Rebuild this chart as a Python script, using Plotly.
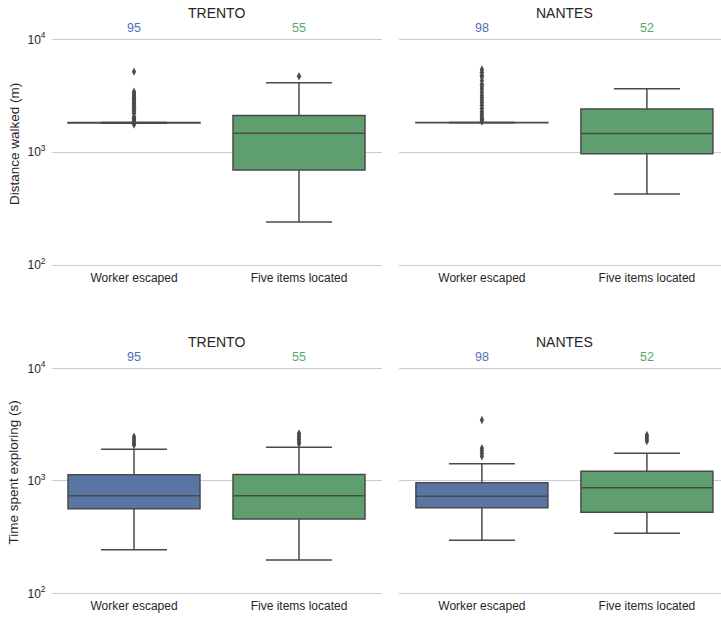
import plotly.graph_objects as go

categories = ["Worker escaped", "Five items located"]
cities = ["TRENTO", "NANTES"]
counts = {"TRENTO": [95, 55], "NANTES": [98, 52]}
metrics = ["Distance walked (m)", "Time spent exploring (s)"]

# box stats per (metric, city): list per category of [lowerfence, q1, median, q3, upperfence]
stats = {
    ("Distance walked (m)", "TRENTO"): [[1800, 1815, 1825, 1835, 1845], [240, 693, 1472, 2109, 4130]],
    ("Distance walked (m)", "NANTES"): [[1810, 1818, 1825, 1835, 1845], [425, 966, 1462, 2415, 3655]],
    ("Time spent exploring (s)", "TRENTO"): [[244, 565, 738, 1132, 1905], [198, 457, 738, 1140, 1985]],
    ("Time spent exploring (s)", "NANTES"): [[296, 577, 728, 962, 1419], [341, 525, 869, 1213, 1755]],
}
outliers = {
    ("Distance walked (m)", "TRENTO"): [
        [5170, 3430, 3300, 3200, 3100, 3000, 2900, 2800, 2700, 2600, 2500, 2400, 2300, 2210,
         2060, 2000, 1950, 1900, 1870, 1760],
        [4700]],
    ("Distance walked (m)", "NANTES"): [
        [5400, 5100, 4800, 4600, 4300, 4000, 3800, 3600, 3400, 3200, 3050, 2900, 2750, 2600,
         2450, 2300, 2200, 2100, 2000, 1950, 1900, 1870],
        []],
    ("Time spent exploring (s)", "TRENTO"): [[2460, 2350, 2250, 2150, 2080], [2630, 2520, 2420, 2330, 2220, 2130]],
    ("Time spent exploring (s)", "NANTES"): [[3470, 1950, 1850, 1750, 1650], [2550, 2450, 2350, 2250]],
}

colors = ["#5875a4", "#5f9e6e"]
text_colors = ["#4c72b0", "#55a868"]
line_color = "#4a4a4a"
font_family = "Liberation Sans, Arial, sans-serif"

W, H = 721, 617
EPS = 0.01  # small range padding (decades) so edge gridlines are drawn
x_domains = [[51.5 / W, 381.5 / W], [399.4 / W, 1.0]]
x_ranges = [[-0.5, 1.5], [-0.5, -0.5 + (W - 399.4) / 165.0]]
row_px = [(39.3, 265.0), (368.3, 593.3)]  # pixel rows of 1e4 and 1e2
y_domains = []
for top_px, bot_px in row_px:
    dec = (bot_px - top_px) / 2.0
    y_domains.append([(H - (bot_px + EPS * dec)) / H, (H - (top_px - EPS * dec)) / H])

fig = go.Figure()
annotations = []
ax = 0
for r, metric in enumerate(metrics):
    top_px, bot_px = row_px[r]
    for c, city in enumerate(cities):
        ax += 1
        xa = "x" if ax == 1 else f"x{ax}"
        ya = "y" if ax == 1 else f"y{ax}"
        st = stats[(metric, city)]
        for k, cat in enumerate(categories):
            lf, q1, med, q3, uf = st[k]
            fig.add_trace(go.Box(
                x=[cat], q1=[q1], median=[med], q3=[q3], lowerfence=[lf], upperfence=[uf],
                width=0.8, whiskerwidth=0.5, fillcolor=colors[k],
                line=dict(color=line_color, width=1.5), boxpoints=False,
                xaxis=xa, yaxis=ya, showlegend=False, hoverinfo="skip"))
            outs = outliers[(metric, city)][k]
            if outs:
                fig.add_trace(go.Scatter(
                    x=[cat] * len(outs), y=outs, mode="markers",
                    marker=dict(symbol="diamond-tall", size=6, color=line_color),
                    xaxis=xa, yaxis=ya, showlegend=False, hoverinfo="skip"))
        xkey = "xaxis" if ax == 1 else f"xaxis{ax}"
        ykey = "yaxis" if ax == 1 else f"yaxis{ax}"
        fig.update_layout({
            xkey: dict(domain=x_domains[c], range=x_ranges[c], type="category",
                       categoryorder="array", categoryarray=categories,
                       showgrid=False, zeroline=False, showline=False, ticks="",
                       automargin=False, ticklabelstandoff=3,
                       tickfont=dict(size=12, color="#262626"), anchor=ya),
            ykey: dict(domain=y_domains[r], type="log", range=[2 - EPS, 4 + EPS],
                       tickvals=[100, 1000, 10000],
                       ticktext=["10<sup>2</sup>", "10<sup>3</sup>", "10<sup>4</sup>"],
                       showticklabels=(c == 0), showgrid=True, gridcolor="#cccccc",
                       gridwidth=1, zeroline=False, showline=False, ticks="",
                       automargin=False, ticklabelstandoff=5,
                       tickfont=dict(size=12, color="#262626"), anchor=xa),
        })
        annotations.append(dict(
            x=(216.5 if c == 0 else 564.0) / W, y=(H - (top_px - 26)) / H,
            xref="paper", yref="paper", text=city, showarrow=False,
            xanchor="center", yanchor="middle",
            font=dict(size=14, color="#262626", family=font_family)))
        for k, cat in enumerate(categories):
            annotations.append(dict(
                x=cat, y=(H - (top_px - 11)) / H, xref=xa, yref="paper",
                text=str(counts[city][k]), showarrow=False,
                xanchor="center", yanchor="middle",
                font=dict(size=12.5, color=text_colors[k], family=font_family)))
    annotations.append(dict(
        x=14 / W, y=(H - (144 if r == 0 else 472.6)) / H, xref="paper", yref="paper",
        text=metric, textangle=-90, showarrow=False,
        xanchor="center", yanchor="middle",
        font=dict(size=13.5, color="#262626", family=font_family)))

fig.update_layout(
    template="none",
    width=W, height=H, margin=dict(l=0, r=0, t=0, b=0, pad=0, autoexpand=False),
    plot_bgcolor="white", paper_bgcolor="white",
    font=dict(family=font_family, color="#262626"),
    boxmode="overlay", annotations=annotations)

fig.write_html("out.html", config={"displayModeBar": False},
               post_script="document.body.style.margin='0';document.body.style.overflow='hidden';")
